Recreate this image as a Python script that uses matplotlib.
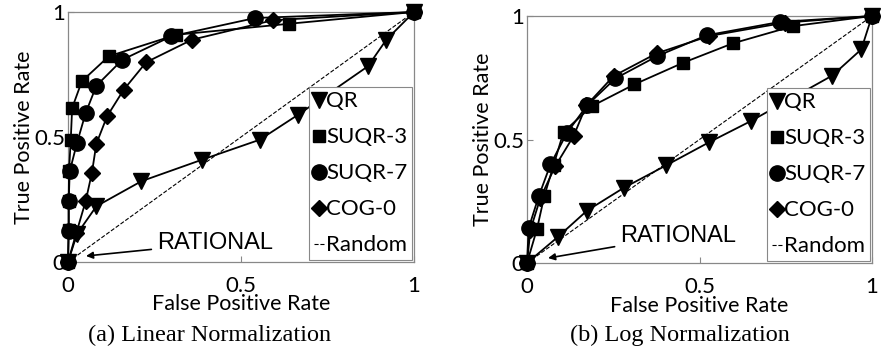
import matplotlib
matplotlib.use("Agg")
import matplotlib.pyplot as plt
from matplotlib.lines import Line2D

# (a) linear normalization
lin_qr_x = [0, 0.026, 0.082, 0.212, 0.387, 0.554, 0.665, 0.867, 0.920, 1]
lin_qr_y = [0, 0.112, 0.223, 0.323, 0.409, 0.489, 0.589, 0.783, 0.889, 1]
lin_s3_x = [0, 0.002, 0.002, 0.003, 0.008, 0.012, 0.040, 0.118, 0.313, 0.639, 1]
lin_s3_y = [0, 0.13, 0.245, 0.365, 0.49, 0.616, 0.723, 0.823, 0.909, 0.953, 1]
lin_s7_x = [0, 0.002, 0.002, 0.005, 0.026, 0.051, 0.082, 0.157, 0.299, 0.541, 1]
lin_s7_y = [0, 0.123, 0.243, 0.363, 0.476, 0.596, 0.705, 0.809, 0.903, 0.976, 1]
lin_cog_x = [0, 0.024, 0.051, 0.069, 0.082, 0.113, 0.161, 0.226, 0.358, 0.592, 1]
lin_cog_y = [0, 0.116, 0.243, 0.356, 0.473, 0.583, 0.689, 0.799, 0.889, 0.967, 1]

# (b) log normalization
log_qr_x = [0, 0.089, 0.174, 0.280, 0.403, 0.528, 0.648, 0.885, 0.969, 1]
log_qr_y = [0, 0.105, 0.212, 0.304, 0.395, 0.489, 0.574, 0.759, 0.865, 1]
log_s3_x = [0, 0.029, 0.050, 0.077, 0.106, 0.188, 0.311, 0.453, 0.596, 0.771, 1]
log_s3_y = [0, 0.138, 0.270, 0.396, 0.531, 0.635, 0.723, 0.811, 0.889, 0.959, 1]
log_s7_x = [0, 0.005, 0.034, 0.068, 0.116, 0.174, 0.256, 0.378, 0.521, 0.733, 1]
log_s7_y = [0, 0.142, 0.270, 0.399, 0.527, 0.638, 0.747, 0.838, 0.922, 0.976, 1]
log_cog_x = [0, 0.010, 0.039, 0.082, 0.135, 0.172, 0.251, 0.376, 0.528, 0.747, 1]
log_cog_y = [0, 0.135, 0.264, 0.392, 0.514, 0.638, 0.757, 0.849, 0.919, 0.973, 1]

labels = ["QR", "SUQR-3", "SUQR-7", "COG-0", "Random"]
captions = ["(a) Linear Normalization", "(b) Log Normalization"]

fig = plt.figure(figsize=(8.81, 3.5), dpi=100)
ax1 = fig.add_axes([68/881, 1-262/350, 346/881, 250/350])
ax2 = fig.add_axes([527/881, 1-263/350, 345/881, 247/350])

panels = [
    (ax1, [(lin_qr_x, lin_qr_y), (lin_s3_x, lin_s3_y), (lin_s7_x, lin_s7_y), (lin_cog_x, lin_cog_y)],
     (0.052, 0.024), (0.257, 0.076)),
    (ax2, [(log_qr_x, log_qr_y), (log_s3_x, log_s3_y), (log_s7_x, log_s7_y), (log_cog_x, log_cog_y)],
     (0.061, 0.02), (0.27, 0.11)),
]
markers = ["v", "s", "o", "D"]
sizes = [11, 9, 11, 8]
sans = "Lato"

for ax, series, arrow_xy, text_xy in panels:
    ax.plot([0, 1], [0, 1], "k--", lw=0.8, zorder=1)
    for (x, y), m, ms in zip(series, markers, sizes):
        ax.plot(x, y, "k-", marker=m, ms=ms, lw=1.3, zorder=3)
    ax.set_xlim(0, 1)
    ax.set_ylim(0, 1)
    ax.set_xticks([0, 0.5, 1])
    ax.set_yticks([0, 0.5, 1])
    ax.set_xticklabels(["0", "0.5", "1"], fontfamily=sans, fontsize=16)
    ax.set_yticklabels(["0", "0.5", "1"], fontfamily=sans, fontsize=16)
    ax.tick_params(direction="in", length=4, color="#888888", pad=2)
    ax.tick_params(axis="x", pad=10)
    for sp in ax.spines.values():
        sp.set_color("#888888")
        sp.set_linewidth(0.9)
    ax.set_xlabel("False Positive Rate", fontfamily=sans, fontsize=15.5, labelpad=-1)
    ax.set_ylabel("True Positive Rate", fontfamily=sans, fontsize=15.5, labelpad=0)
    for c in ax.get_children():
        if isinstance(c, Line2D):
            c.set_clip_on(False)

    handles = [Line2D([], [], color="k", marker=m, ms=ms, ls="none") for m, ms in zip(markers, sizes)]
    handles.append(Line2D([], [], color="k", ls="--", lw=0.8))
    leg = ax.legend(handles, labels, loc="lower right", bbox_to_anchor=(1.0, 0.0),
                    prop={"family": sans, "size": 16}, handlelength=0.5, handletextpad=0.05,
                    labelspacing=0.72, borderpad=0.2, borderaxespad=0.1,
                    fancybox=False, framealpha=1)
    leg.get_frame().set_edgecolor("#888888")
    leg.get_frame().set_linewidth(0.8)

    ax.annotate("RATIONAL", xy=arrow_xy, xytext=text_xy, fontfamily="Liberation Sans",
                fontsize=17, va="center", ha="left",
                arrowprops=dict(arrowstyle="-|>", color="k", lw=1.2, mutation_scale=10,
                                shrinkA=2, shrinkB=0))

fig.text(210/881, 1-335/350, captions[0], fontfamily="Liberation Serif", fontsize=17.5,
         ha="center", va="center")
fig.text(680/881, 1-335/350, captions[1], fontfamily="Liberation Serif", fontsize=17.5,
         ha="center", va="center")

fig.savefig("out.png", dpi=100)
